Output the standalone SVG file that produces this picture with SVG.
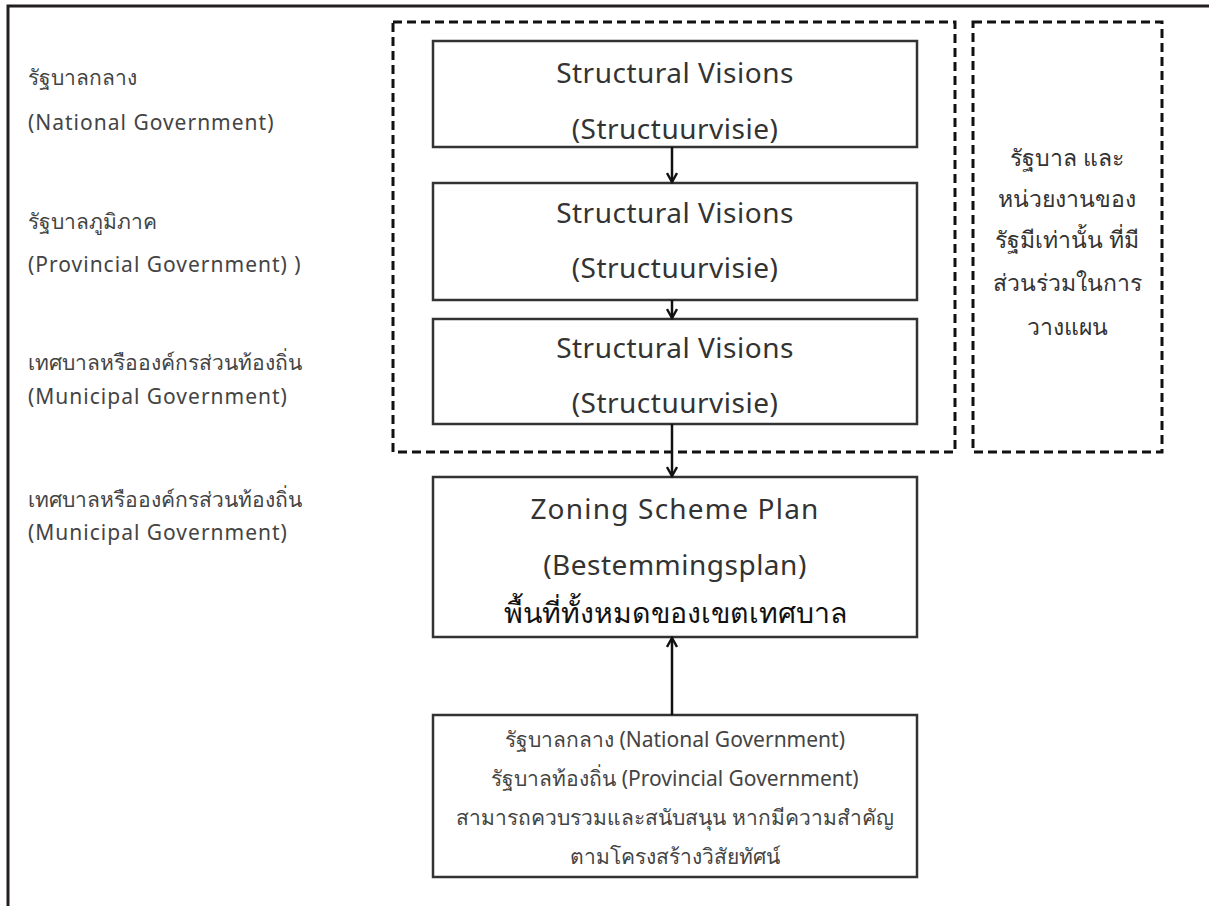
<svg xmlns="http://www.w3.org/2000/svg" width="1209" height="906" viewBox="0 0 1209 906">
  <defs>
    <marker id="arrow" viewBox="0 0 12 12" refX="10" refY="6" markerWidth="12" markerHeight="12" markerUnits="userSpaceOnUse" orient="auto">
      <path d="M1,1 L10,6 L1,11" fill="none" stroke="#111" stroke-width="2.4" stroke-linejoin="miter"/>
    </marker>
  </defs>
  <style>
    .frame { fill: none; stroke: #231f20; stroke-width: 3; }
    .dash { fill: none; stroke: #111; stroke-width: 3; stroke-dasharray: 9 5; }
    .box { fill: #fff; stroke: #333; stroke-width: 2.5; }
    .link { stroke: #111; stroke-width: 2.5; fill: none; }
    .side { font-family: "Noto Sans", "DejaVu Sans", sans-serif; font-size: 21px; fill: #444; }
    .side-en { letter-spacing: 1px; }
    .title { font-family: "Noto Sans", "DejaVu Sans", sans-serif; font-size: 28px; fill: #333; text-anchor: middle; letter-spacing: 0.5px; }
    .wide { letter-spacing: 1.2px; }
    .thai-b { font-family: "Noto Sans", "DejaVu Sans", sans-serif; font-size: 28.5px; fill: #111; text-anchor: middle; }
    .note { font-family: "Noto Sans", "DejaVu Sans", sans-serif; font-size: 23px; fill: #333; text-anchor: middle; }
    .small { font-family: "Noto Sans", "DejaVu Sans", sans-serif; font-size: 21px; fill: #444; text-anchor: middle; }
  </style>
  <rect width="1209" height="906" fill="#fff"/>
  <!-- page frame (top and left edges) -->
  <path class="frame" d="M8,910 L8,6 L1215,6"/>

  <!-- level labels -->
  <g id="label-national">
    <text class="side" x="28" y="85">รัฐบาลกลาง</text>
    <text class="side side-en" x="28" y="130">(National Government)</text>
  </g>
  <g id="label-provincial">
    <text class="side" x="28" y="229">รัฐบาลภูมิภาค</text>
    <text class="side side-en" x="28" y="272">(Provincial Government) )</text>
  </g>
  <g id="label-municipal-1">
    <text class="side" x="28" y="370">เทศบาลหรือองค์กรส่วนท้องถิ่น</text>
    <text class="side side-en" x="28" y="404">(Municipal Government)</text>
  </g>
  <g id="label-municipal-2">
    <text class="side" x="28" y="507">เทศบาลหรือองค์กรส่วนท้องถิ่น</text>
    <text class="side side-en" x="28" y="540">(Municipal Government)</text>
  </g>

  <!-- dashed groupings -->
  <g id="group-visions">
    <rect class="dash" x="393" y="22" width="562" height="430"/>
  </g>
  <g id="group-note">
    <rect class="dash" x="973" y="22" width="189" height="430"/>
    <text class="note" x="1067" y="166">รัฐบาล และ</text>
    <text class="note" x="1067" y="207">หน่วยงานของ</text>
    <text class="note" x="1067" y="248">รัฐมีเท่านั้น ที่มี</text>
    <text class="note" x="1067" y="291">ส่วนร่วมในการ</text>
    <text class="note" x="1067" y="335">วางแผน</text>
  </g>

  <!-- structural vision boxes -->
  <g id="vision-national">
    <rect class="box" x="433" y="41" width="484" height="106"/>
    <text class="title" x="675" y="83">Structural Visions</text>
    <text class="title" x="675" y="139">(Structuurvisie)</text>
  </g>
  <g id="vision-provincial">
    <rect class="box" x="433" y="183" width="484" height="117"/>
    <text class="title" x="675" y="223">Structural Visions</text>
    <text class="title" x="675" y="278">(Structuurvisie)</text>
  </g>
  <g id="vision-municipal">
    <rect class="box" x="433" y="319" width="484" height="105"/>
    <text class="title" x="675" y="358">Structural Visions</text>
    <text class="title" x="675" y="413">(Structuurvisie)</text>
  </g>

  <!-- zoning plan -->
  <g id="zoning-plan">
    <rect class="box" x="433" y="477" width="484" height="160"/>
    <text class="title wide" x="675" y="519">Zoning Scheme Plan</text>
    <text class="title" x="675" y="575">(Bestemmingsplan)</text>
    <text class="thai-b" x="675" y="623">พื้นที่ทั้งหมดของเขตเทศบาล</text>
  </g>

  <!-- supervision box -->
  <g id="supervision">
    <rect class="box" x="433" y="715" width="484" height="162"/>
    <text class="small" x="675" y="747">รัฐบาลกลาง (National Government)</text>
    <text class="small" x="675" y="786">รัฐบาลท้องถิ่น (Provincial Government)</text>
    <text class="small" x="675" y="825">สามารถควบรวมและสนับสนุน หากมีความสำคัญ</text>
    <text class="small" x="675" y="864">ตามโครงสร้างวิสัยทัศน์</text>
  </g>

  <!-- connectors -->
  <g id="connectors">
    <line class="link" x1="672" y1="147" x2="672" y2="182" marker-end="url(#arrow)"/>
    <line class="link" x1="672" y1="300" x2="672" y2="318" marker-end="url(#arrow)"/>
    <line class="link" x1="672" y1="424" x2="672" y2="476" marker-end="url(#arrow)"/>
    <line class="link" x1="672" y1="715" x2="672" y2="638" marker-end="url(#arrow)"/>
  </g>
</svg>
